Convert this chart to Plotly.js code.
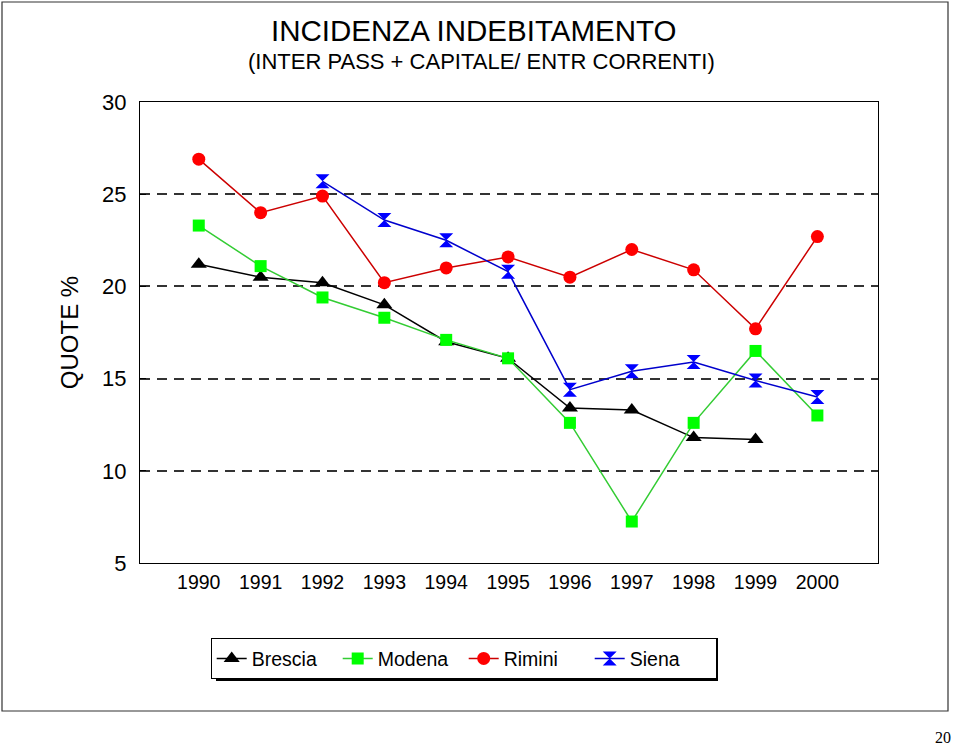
<!DOCTYPE html>
<html><head><meta charset="utf-8">
<script src="https://cdn.plot.ly/plotly-3.0.1.min.js"></script>
<style>html,body{margin:0;padding:0;background:#fff;}#chart{width:960px;height:746px;}</style>
</head><body><div id="chart"></div>
<script>
const years = ['1990','1991','1992','1993','1994','1995','1996','1997','1998','1999','2000'];
const brescia = [21.2, 20.5, 20.2, 19.0, 17.0, 16.1, 13.4, 13.3, 11.8, 11.7, null];
const modena  = [23.3, 21.1, 19.4, 18.3, 17.1, 16.1, 12.6, 7.25, 12.6, 16.5, 13.0];
const rimini  = [26.9, 24.0, 24.9, 20.2, 21.0, 21.6, 20.5, 22.0, 20.9, 17.7, 22.7];
const siena   = [null, null, 25.7, 23.6, 22.5, 20.8, 14.4, 15.4, 15.9, 14.9, 14.0];
const yTicks = [5, 10, 15, 20, 25, 30];

const mk = (name, y, lineColor, mColor, symbol, size) => ({
  type: 'scatter', mode: 'lines+markers', name: name, x: years, y: y,
  line: {color: lineColor, width: 1.5},
  marker: {color: mColor, symbol: symbol, size: size, line: {width: 0}},
  connectgaps: false
});

const data = [
  mk('Brescia', brescia, '#000000', '#000000', 'triangle-up', 14),
  mk('Modena', modena, '#33CC33', '#00FF00', 'square', 12),
  mk('Rimini', rimini, '#CC0000', '#FF0000', 'circle', 13),
  mk('Siena', siena, '#0000CC', '#0000FF', 'hourglass', 14)
];

const L = 140, R = 878, T = 102, B = 563;
const px = v => (v - L) / (R - L);
const py = v => (B - v) / (B - T);

const layout = {
  width: 960, height: 746,
  margin: {l: L, r: 960 - R, t: T, b: 746 - B},
  paper_bgcolor: '#fff', plot_bgcolor: '#fff',
  font: {family: 'Liberation Sans, Arial, sans-serif', color: '#000'},
  showlegend: true,
  xaxis: {
    type: 'category', range: [-0.95, 10.98],
    showgrid: false, zeroline: false, ticks: '',
    showline: true, linecolor: '#000', linewidth: 1.2, mirror: true,
    tickfont: {size: 19.5}, ticklabelstandoff: 1
  },
  yaxis: {
    range: [5, 30], tickvals: yTicks,
    showgrid: true, gridcolor: '#333', griddash: '10px,7px', gridwidth: 2,
    zeroline: false, ticks: 'inside', ticklen: 6, tickcolor: '#000',
    showline: true, linecolor: '#000', linewidth: 1.2, mirror: true,
    tickfont: {size: 22}, ticklabelstandoff: 8,
    title: {text: 'QUOTE %', font: {size: 24}, standoff: 16}
  },
  legend: {
    orientation: 'h', x: px(464), y: py(638), xanchor: 'center', yanchor: 'top',
    bgcolor: '#fff', bordercolor: '#000', borderwidth: 1.2,
    font: {size: 19.5}, entrywidth: 81
  },
  shapes: [
    {type: 'rect', xref: 'paper', yref: 'paper', x0: px(2), x1: px(948), y0: py(711), y1: py(2),
     line: {color: '#333', width: 1.2}, fillcolor: 'rgba(0,0,0,0)', layer: 'below'},
    {type: 'rect', xref: 'paper', yref: 'paper', x0: px(216), x1: px(718), y0: py(681), y1: py(642),
     line: {width: 0}, fillcolor: '#000', layer: 'below'}
  ],
  annotations: [
    {text: 'INCIDENZA INDEBITAMENTO', xref: 'paper', yref: 'paper', x: px(473), y: py(30),
     xanchor: 'center', yanchor: 'middle', showarrow: false, font: {size: 29.5}},
    {text: '(INTER PASS + CAPITALE/ ENTR CORRENTI)', xref: 'paper', yref: 'paper', x: px(481), y: py(62),
     xanchor: 'center', yanchor: 'middle', showarrow: false, font: {size: 22}},
    {text: '20', xref: 'paper', yref: 'paper', x: px(953), y: py(737),
     xanchor: 'right', yanchor: 'middle', showarrow: false,
     font: {size: 16, family: 'Liberation Serif, Times New Roman, serif'}}
  ]
};

Plotly.newPlot('chart', data, layout, {displayModeBar: false, staticPlot: true});
</script></body></html>
